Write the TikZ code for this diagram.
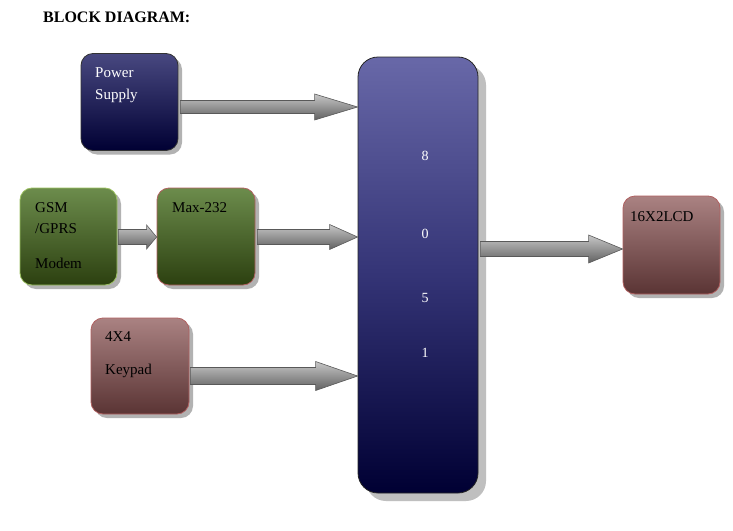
\documentclass[tikz,border=0pt]{standalone}
\usepackage{fontspec}
\setmainfont{Liberation Serif}
\usetikzlibrary{calc,shadows}
\definecolor{navyT}{RGB}{72,72,128}
\definecolor{navyB}{RGB}{0,0,51}
\definecolor{mcuT}{RGB}{104,104,168}
\definecolor{mcuM}{RGB}{52,52,118}
\definecolor{grnT}{RGB}{108,140,76}
\definecolor{grnB}{RGB}{44,64,16}
\definecolor{grnE}{RGB}{155,192,96}
\definecolor{redE}{RGB}{176,96,96}
\definecolor{mauT}{RGB}{170,130,130}
\definecolor{mauB}{RGB}{90,52,52}
\tikzset{
  blk/.style={rounded corners=12pt, minimum width=97pt, minimum height=97pt, inner sep=0pt, line width=0.8pt,
    drop shadow={shadow xshift=4pt, shadow yshift=-4pt, fill=black!30, opacity=1}},
  navyblk/.style={blk, draw=black!80, top color=navyT, bottom color=navyB},
  grnblk/.style={blk, draw=grnE, top color=grnT, bottom color=grnB},
  maxblk/.style={blk, draw=redE, top color=grnT, bottom color=grnB},
  maublk/.style={blk, draw=redE, top color=mauT, bottom color=mauB},
  mcublk/.style={rounded corners=20pt, minimum width=120pt, minimum height=436pt, inner sep=0pt, line width=0.8pt,
    draw=black!85, top color=mcuT, bottom color=navyB, middle color=mcuM,
    drop shadow={shadow xshift=8pt, shadow yshift=-8pt, fill=black!25, opacity=1}},
  txt/.style={anchor=base west, inner sep=0pt, font=\fontsize{15}{18}\selectfont},
  wtxt/.style={txt, text=white},
  dig/.style={anchor=base, inner sep=0pt, text=white, font=\fontsize{14}{16}\selectfont},
  barrowstyle/.style={top color=black!22, bottom color=black!62, draw=black!65, line width=0.6pt}
}
% #1 start, #2 end, #3 half body, #4 half head, #5 head length
\newcommand{\blockarrow}[5]{%
  \path[barrowstyle] let \p1=#1, \p2=#2 in
    (\x1,\y1+#3) -- (\x2-#5,\y1+#3) -- (\x2-#5,\y1+#4) -- (\x2,\y1)
    -- (\x2-#5,\y1-#4) -- (\x2-#5,\y1-#3) -- (\x1,\y1-#3) -- cycle;}
\begin{document}
\begin{tikzpicture}[x=1pt,y=-1pt]
\useasboundingbox[fill=white] (0,0) rectangle (733,530);
\node[anchor=base west, inner sep=0pt, font=\bfseries\fontsize{16}{18}\selectfont] (title) at (43,23) {BLOCK DIAGRAM:};

\node[mcublk] (mcu) at (418,275) {};
\node[navyblk] (ps) at (129.5,102) {};
\node[grnblk] (gsm) at (68.5,236.5) {};
\node[maxblk, minimum width=98pt] (max) at (206,236.5) {};
\node[maublk, minimum width=98pt, minimum height=96pt] (kp) at (140,366) {};
\node[maublk, minimum height=98pt] (lcd) at (671.5,245) {};

\node[wtxt] (ps1) at (95,77) {Power};
\node[wtxt] (ps2) at (95,99) {Supply};
\node[txt] (gsm1) at (35,212) {GSM};
\node[txt] (gsm2) at (35,233) {/GPRS};
\node[txt] (gsm3) at (35,268) {Modem};
\node[txt] (max1) at (172,212) {Max-232};
\node[txt] (kp1) at (105,341) {4X4};
\node[txt] (kp2) at (105,374) {Keypad};
\node[txt] (lcd1) at (630,221) {16X2LCD};

\node[dig] (d8) at (425,160) {8};
\node[dig] (d0) at (425,238) {0};
\node[dig] (d5) at (425,302) {5};
\node[dig] (d1) at (425,357) {1};

\blockarrow{($(ps.east)+(2,5)$)}{(mcu.west)}{6.5pt}{13pt}{43pt}
\blockarrow{($(gsm.east)+(1,0.5)$)}{(max.west)}{7.5pt}{12pt}{10pt}
\blockarrow{($(max.east)+(2,0.5)$)}{(mcu.west)}{7.5pt}{12.5pt}{28pt}
\blockarrow{($(kp.east)+(1,10)$)}{(mcu.west)}{8.5pt}{14.5pt}{42pt}
\blockarrow{($(mcu.east|-lcd.west)+(2,4)$)}{(lcd.west)}{7.5pt}{14pt}{34pt}
\end{tikzpicture}
\end{document}
